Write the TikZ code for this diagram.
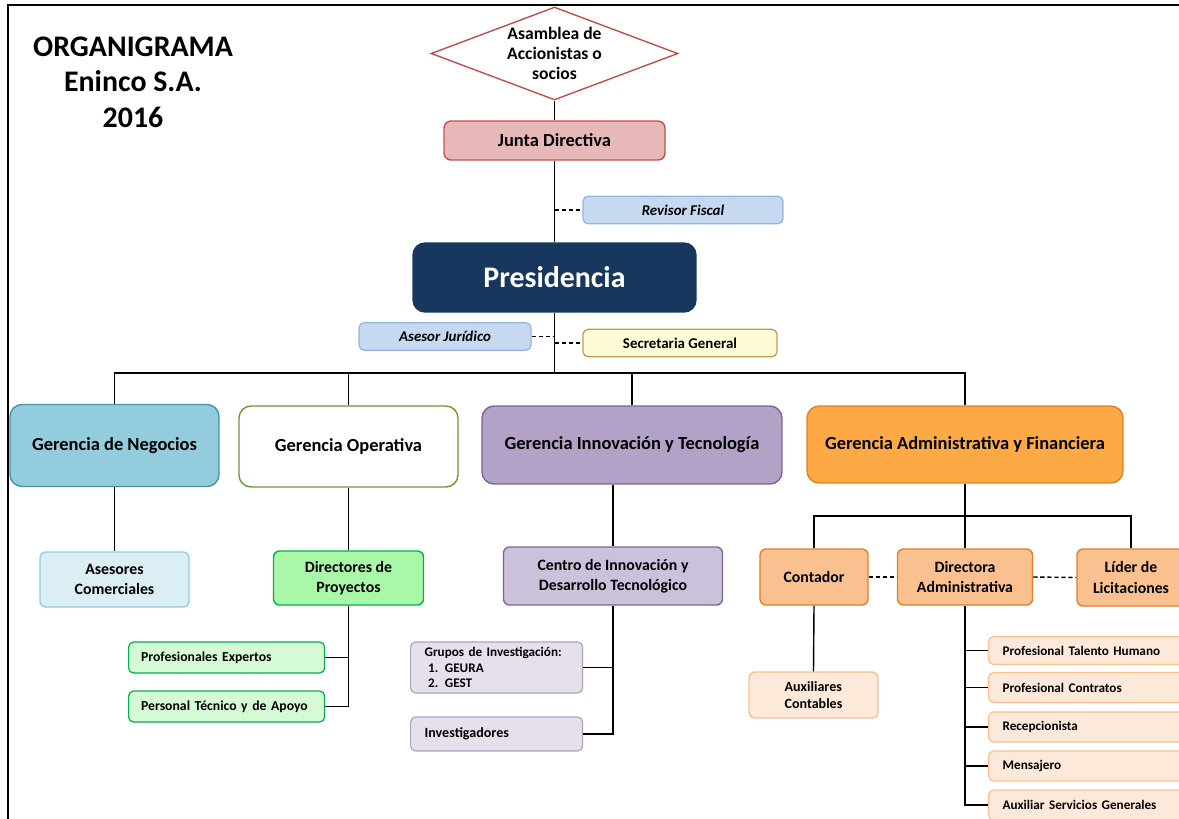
\documentclass[tikz,border=0pt]{standalone}
\usepackage{fontspec}
\setmainfont{Carlito}
\usetikzlibrary{shapes.geometric}

\definecolor{navy}{HTML}{17375E}
\definecolor{juntafill}{HTML}{E6B9B8}
\definecolor{juntaline}{HTML}{C0504D}
\definecolor{bluefill}{HTML}{C6D9F1}
\definecolor{blueline}{HTML}{8EB4E3}
\definecolor{yellowfill}{HTML}{FEFCD4}
\definecolor{yellowline}{HTML}{BF9A5A}
\definecolor{negfill}{HTML}{93CDDD}
\definecolor{negline}{HTML}{4A8FA8}
\definecolor{negsub}{HTML}{DBEEF4}
\definecolor{opline}{HTML}{6A9A2A}
\definecolor{greenfill}{HTML}{A9F7A9}
\definecolor{greenline}{HTML}{00B050}
\definecolor{greensub}{HTML}{D5FBD5}
\definecolor{innfill}{HTML}{B3A2C7}
\definecolor{innline}{HTML}{7B6699}
\definecolor{innmid}{HTML}{CCC1DA}
\definecolor{innsub}{HTML}{E5E0EC}
\definecolor{admfill}{HTML}{FDA945}
\definecolor{admline}{HTML}{E57E25}
\definecolor{admmid}{HTML}{FAC090}
\definecolor{admsub}{HTML}{FDE9D9}

\begin{document}
\begin{tikzpicture}[x=0.02cm,y=-0.02cm,
  gerbox/.style={draw, rounded corners=0.24cm, line width=0.8pt, inner sep=0,
    align=center, font=\fontsize{10.5}{12.6}\selectfont\bfseries},
  unitbox/.style={draw, rounded corners=0.12cm, line width=0.8pt, inner sep=0,
    align=center, font=\fontsize{9}{11.4}\selectfont\bfseries},
  staffbox/.style={draw, rounded corners=0.1cm, line width=0.7pt, inner sep=0,
    minimum height=0.55cm, font=\fontsize{8.5}{10}\selectfont\bfseries},
  subbox/.style={draw, rounded corners=0.1cm, line width=0.7pt, anchor=west,
    inner xsep=0.28cm, inner ysep=0, align=left,
    font=\fontsize{7.5}{9.6}\selectfont\bfseries},
  link/.style={line width=0.8pt},
  dashlink/.style={line width=0.8pt, dash pattern=on 2.5pt off 1.5pt}]
\useasboundingbox (0,0) rectangle (1179,818);
\clip (0,0) rectangle (1179,818);
\draw[line width=0.9pt] (8,830) -- (8,5) -- (1190,5);

% title
\node[align=center, font=\fontsize{17}{20.2}\selectfont\bfseries] (title) at (133,82)
  {ORGANIGRAMA\\Eninco S.A.\\2016};

% top of the chart
\node[diamond, draw=juntaline, line width=0.8pt, fill=white, inner sep=0,
  minimum width=4.94cm, minimum height=1.86cm] (asamblea) at (554.5,53.5) {};
\node[align=center, font=\fontsize{10}{11.3}\selectfont\bfseries] (asambleatxt) at (asamblea)
  {Asamblea de\\Accionistas o\\socios};
\node[gerbox, rounded corners=0.14cm, fill=juntafill, draw=juntaline,
  minimum width=4.42cm, minimum height=0.78cm] (junta) at (554.5,140.5) {Junta Directiva};
\node[staffbox, fill=bluefill, draw=blueline, minimum width=4cm,
  font=\fontsize{8.5}{10}\selectfont\bfseries\itshape] (revisor) at (683,210) {Revisor Fiscal};
\node[gerbox, fill=navy, draw=navy, text=white, minimum width=5.66cm, minimum height=1.38cm,
  font=\fontsize{17}{20}\selectfont\bfseries] (pres) at (554.5,277.5) {Presidencia};
\node[staffbox, fill=bluefill, draw=blueline, minimum width=3.44cm,
  font=\fontsize{8.5}{10}\selectfont\bfseries\itshape] (juridico) at (445,336.5) {Asesor Jurídico};
\node[staffbox, fill=yellowfill, draw=yellowline, minimum width=3.88cm] (secretaria) at (680,343)
  {Secretaria General};

\draw[link] (asamblea.south) -- (junta.north);
\draw[link] (junta.south) -- (pres.north);
\draw[dashlink] (pres.north |- revisor.west) -- (revisor.west);
\draw[dashlink] (juridico.east) -- (pres.south |- juridico.east);
\draw[dashlink] (pres.south |- secretaria.west) -- (secretaria.west);

% gerencias
\node[gerbox, fill=negfill, draw=negline, minimum width=4.18cm, minimum height=1.64cm]
  (negocios) at (114.5,445.5) {Gerencia de Negocios};
\node[gerbox, fill=white, draw=opline, minimum width=4.38cm, minimum height=1.62cm]
  (operativa) at (348.5,446.5) {Gerencia Operativa};
\node[gerbox, fill=innfill, draw=innline, minimum width=6cm, minimum height=1.56cm]
  (innov) at (632,445) {Gerencia Innovación y Tecnología};
\node[gerbox, fill=admfill, draw=admline, minimum width=6.32cm, minimum height=1.54cm]
  (admin) at (965,444.5) {Gerencia Administrativa y Financiera};

\coordinate (bus) at (554.5,373);
\draw[link] (pres.south) -- (bus);
\draw[link] (negocios.north) |- (bus) -| (admin.north);
\draw[link] (operativa.north) -- (operativa.north |- bus);
\draw[link] (innov.north) -- (innov.north |- bus);

% second level
\node[unitbox, fill=negsub, draw=negfill, minimum width=2.98cm, minimum height=1.1cm]
  (asesores) at (114.5,579.5) {Asesores\\Comerciales};
\node[unitbox, fill=greenfill, draw=greenline, minimum width=3cm, minimum height=1.08cm]
  (directores) at (348.5,578) {Directores de\\Proyectos};
\node[unitbox, fill=innmid, draw=innline, minimum width=4.38cm, minimum height=1.16cm]
  (centro) at (613,576) {Centro de Innovación y\\Desarrollo Tecnológico};
\node[unitbox, fill=admmid, draw=admline, minimum width=2.16cm, minimum height=1.12cm]
  (contador) at (814,577) {Contador};
\node[unitbox, fill=admmid, draw=admline, minimum width=2.7cm, minimum height=1.12cm]
  (directora) at (965,577) {Directora\\Administrativa};
\node[unitbox, fill=admmid, draw=admline, minimum width=2.16cm, minimum height=1.14cm]
  (lider) at (1131,577.5) {Líder de\\Licitaciones};

\draw[link] (negocios.south) -- (asesores.north);
\draw[link] (operativa.south) -- (directores.north);
\draw[link] (centro.north |- innov.south) -- (centro.north);
\coordinate (admbus) at (965,516);
\draw[link] (admin.south) -- (directora.north);
\draw[link] (contador.north) |- (admbus) -| (lider.north);
\draw[dashlink] (contador.east) -- (directora.west);
\draw[dashlink] (directora.east) -- (lider.west);

% third level
\node[subbox, fill=greensub, draw=greenline, inner xsep=0.25cm, text width=3.42cm,
  minimum height=0.62cm, font=\fontsize{7.8}{9.6}\selectfont\bfseries] (expertos) at (128,657.5)
  {Profesionales Expertos};
\node[subbox, fill=greensub, draw=greenline, inner xsep=0.25cm, text width=3.42cm,
  minimum height=0.62cm, font=\fontsize{7.8}{9.6}\selectfont\bfseries] (tecnico) at (128,706.5)
  {Personal Técnico y de Apoyo};
\draw[link] (directores.south) |- (tecnico.east);
\draw[link] (directores.south |- expertos.east) -- (expertos.east);

\node[subbox, fill=innsub, draw=innfill, text width=2.88cm, minimum height=1.02cm,
  font=\fontsize{7.5}{8.6}\selectfont\bfseries] (grupos) at (410,667.5)
  {Grupos de Investigación:\\\hspace*{2pt}1. GEURA\\\hspace*{2pt}2. GEST};
\node[subbox, fill=innsub, draw=innfill, text width=2.88cm, minimum height=0.68cm,
  font=\fontsize{8}{9.6}\selectfont\bfseries] (investigadores) at (410,734) {Investigadores};
\draw[link] (centro.south) |- (investigadores.east);
\draw[link] (centro.south |- grupos.east) -- (grupos.east);

\node[unitbox, fill=admsub, draw=admmid, minimum width=2.58cm, minimum height=0.92cm,
  align=left, font=\fontsize{8}{9.6}\selectfont\bfseries] (auxcont) at (813.5,695)
  {Auxiliares\\Contables};
\draw[link] (contador.south) -- (auxcont.north);

\node[subbox, fill=admsub, draw=admmid, text width=3.5cm, minimum height=0.56cm] (talento) at (988,650.5)
  {Profesional Talento Humano};
\node[subbox, fill=admsub, draw=admmid, text width=3.5cm, minimum height=0.6cm] (contratos) at (988,687.5)
  {Profesional Contratos};
\node[subbox, fill=admsub, draw=admmid, text width=3.5cm, minimum height=0.6cm] (recep) at (988,727)
  {Recepcionista};
\node[subbox, fill=admsub, draw=admmid, text width=3.5cm, minimum height=0.6cm] (mensajero) at (988,766)
  {Mensajero};
\node[subbox, fill=admsub, draw=admmid, text width=3.5cm, minimum height=0.6cm] (auxserv) at (988,805)
  {Auxiliar Servicios Generales};
\draw[link] (directora.south) |- (auxserv.west);
\foreach \n in {talento,contratos,recep,mensajero}
  \draw[link] (directora.south |- \n.west) -- (\n.west);
\end{tikzpicture}
\end{document}
